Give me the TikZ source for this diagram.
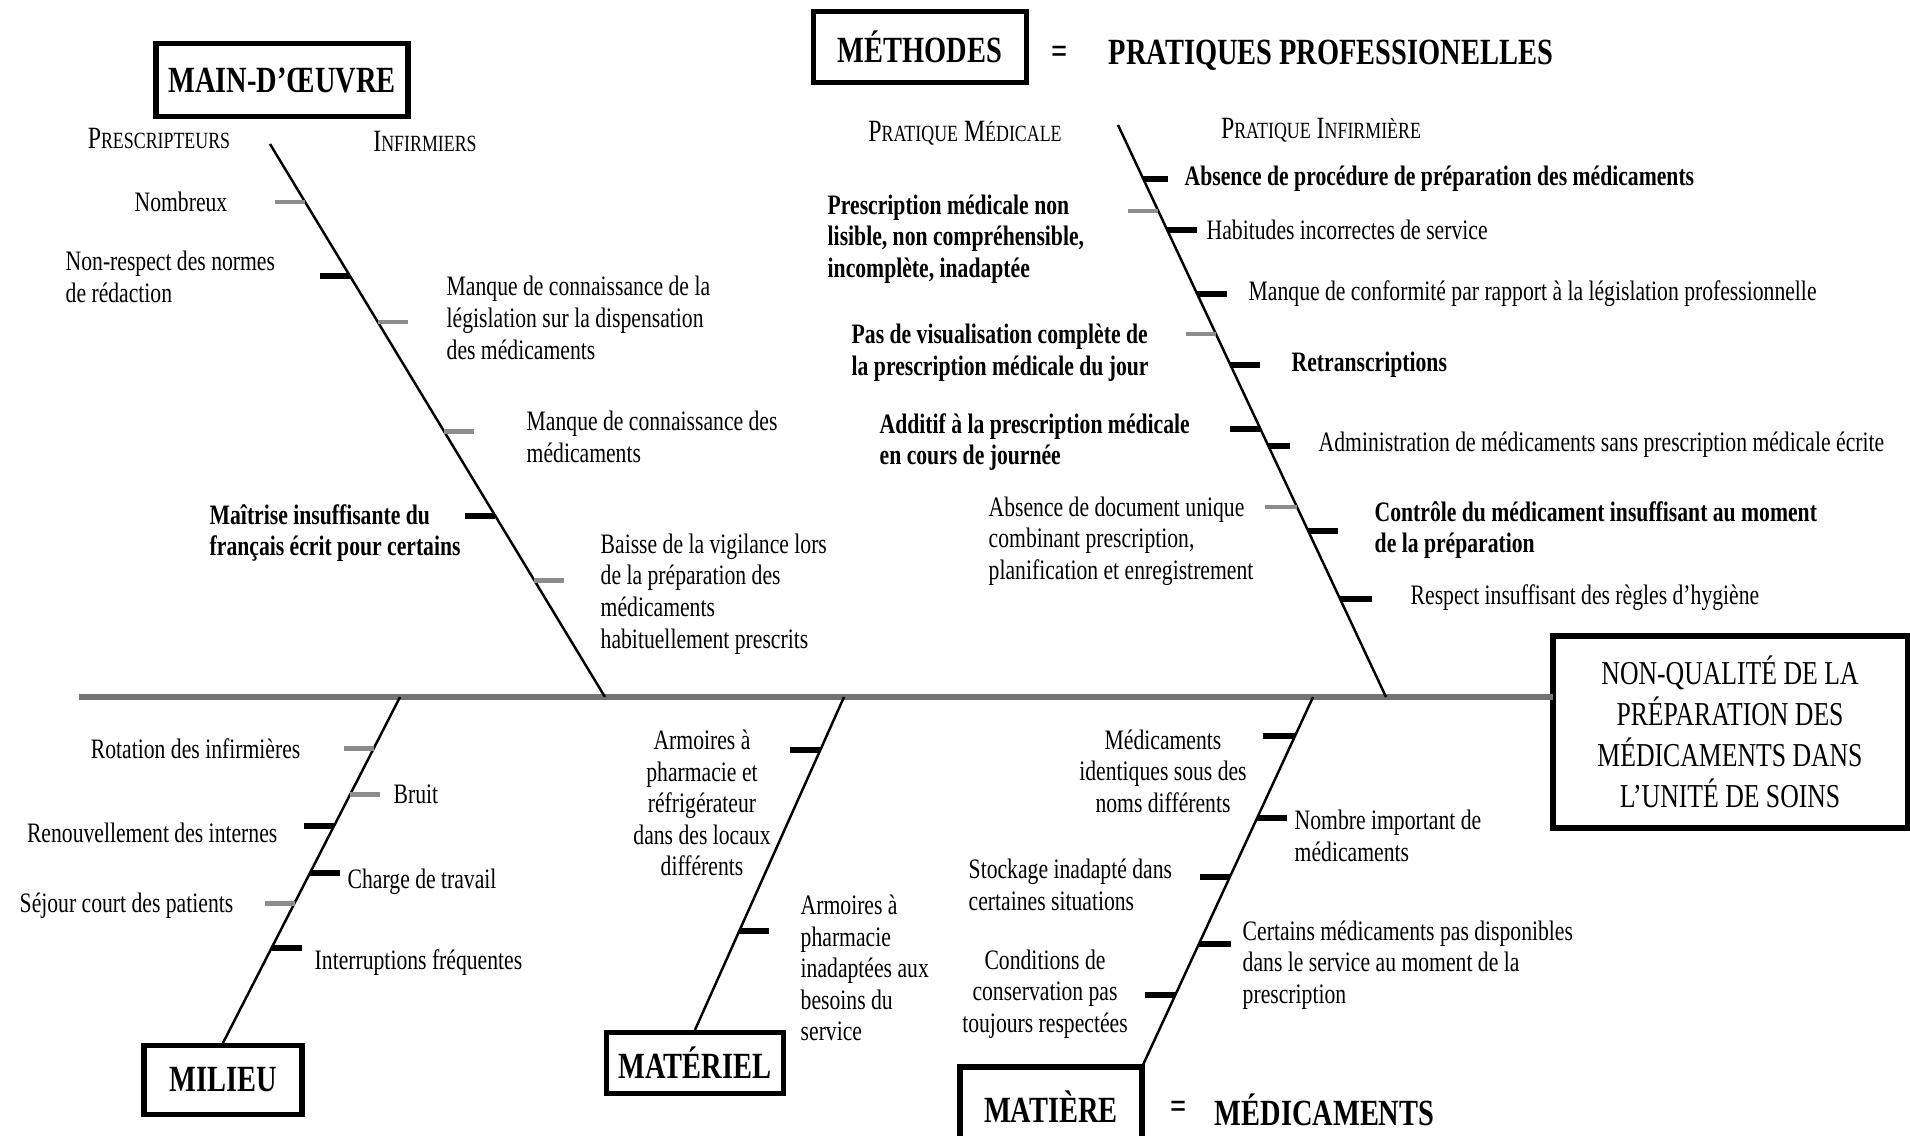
\documentclass[tikz,border=0pt]{standalone}
\usepackage{fontspec}
\setmainfont{Liberation Serif}[FakeStretch=0.77]
\usetikzlibrary{positioning}

\newcommand{\petit}[1]{{\fontsize{6.6}{8}\selectfont #1}}

\begin{document}
\begin{tikzpicture}[x=0.01cm, y=-0.01cm,
        box/.style={draw, line width=1.5pt, inner sep=0pt, font=\fontsize{10.5}{12}\selectfont\bfseries},
        cause/.style={inner sep=0pt, align=left, font=\fontsize{8}{9}\selectfont},
        causeb/.style={cause, font=\fontsize{8}{9}\selectfont\bfseries},
        head/.style={inner sep=0pt, font=\fontsize{8.8}{10}\selectfont},
        title/.style={inner sep=0pt, font=\fontsize{10.5}{12}\selectfont\bfseries},
        bone/.style={line width=0.7pt},
        spine/.style={line width=1.8pt, black!55},
        tick/.style={line width=1.4pt, black!45},
        tickd/.style={line width=1.6pt, black}]

        \clip (0,0) rectangle (1910,1135);

        % Effect and spine
        \node[box, minimum width=3.54cm, minimum height=1.92cm, align=center,
              font=\fontsize{9.5}{11.7}\selectfont] (eff) at (1730,732)
              {NON-QUALITÉ DE LA\\PRÉPARATION DES\\MÉDICAMENTS DANS\\L’UNITÉ DE SOINS};
        \coordinate (tail) at (79,697);
        \coordinate (head) at (1553,697);
        \draw[spine] (tail) -- (head);

        % Category boxes
        \node[box, minimum width=2.52cm, minimum height=0.73cm] (mo) at (282,80) {MAIN-D’ŒUVRE};
        \node[box, minimum width=2.13cm, minimum height=0.71cm] (me) at (920,47) {MÉTHODES};
        \node[box, minimum width=1.58cm, minimum height=0.69cm] (mi) at (223,1080) {MILIEU};
        \node[box, minimum width=1.77cm, minimum height=0.61cm] (ma) at (695,1063) {MATÉRIEL};
        \node[box, minimum width=1.82cm, minimum height=0.80cm] (mt) at (1051,1107) {MATIÈRE};

        \node[title] (eq1) at (1060,55) {=};
        \node[title, anchor=west] (pp) at (1108,55) {PRATIQUES PROFESSIONELLES};
        \node[title] (eq2) at (1179,1110) {=};
        \node[title, anchor=west] (med) at (1214,1110) {MÉDICAMENTS};

        % Sub-headings
        \node[head] (presc) at (159,138) {P\petit{RESCRIPTEURS}};
        \node[head] (infir) at (425,141) {I\petit{NFIRMIERS}};
        \node[head] (pmed) at (965,133) {P\petit{RATIQUE} M\petit{ÉDICALE}};
        \node[head] (pinf) at (1321,130) {P\petit{RATIQUE} I\petit{NFIRMIÈRE}};

        % Bones
        \coordinate (moA) at (270,144);
        \coordinate (moB) at (605,697);
        \coordinate (meA) at (1118,125);
        \coordinate (meB) at (1386,697);
        \coordinate (miA) at (400,697);
        \coordinate (maA) at (844,697);
        \coordinate (mtA) at (1313,697);
        \coordinate (mtB) at (1142,1067);
        \draw[bone] (moA) -- (moB);
        \draw[bone] (meA) -- (meB);
        \draw[bone] (miA) -- (mi.north);
        \draw[bone] (maA) -- (ma.north);
        \draw[bone] (mtA) -- (mtB);

        % Main-d'oeuvre
        \node[cause, anchor=east] (mo1) at (228,202) {Nombreux};
        \node[cause, anchor=west] (mo2) at (65,277) {Non-respect des normes\\de rédaction};
        \node[cause, anchor=west] (mo3) at (446,318) {Manque de connaissance de la\\législation sur la dispensation\\des médicaments};
        \node[cause, anchor=west] (mo4) at (526,437) {Manque de connaissance des\\médicaments};
        \node[causeb, anchor=west] (mo5) at (209,533) {Maîtrise insuffisante du\\français écrit pour certains};
        \node[cause, anchor=west] (mo6) at (600,594) {Baisse de la vigilance lors\\de la préparation des\\médicaments\\habituellement prescrits};
        \draw[tick] (intersection of moA--moB and 0,202--1,202) -- ++(-30,0);
        \draw[tickd] (intersection of moA--moB and 0,276--1,276) -- ++(-30,0);
        \draw[tick] (intersection of moA--moB and 0,322--1,322) -- ++(30,0);
        \draw[tick] (intersection of moA--moB and 0,431--1,431) -- ++(30,0);
        \draw[tickd] (intersection of moA--moB and 0,516--1,516) -- ++(-30,0);
        \draw[tick] (intersection of moA--moB and 0,580--1,580) -- ++(30,0);

        % Methodes
        \node[causeb, anchor=west] (me1) at (1184,179) {Absence de procédure de préparation des médicaments};
        \node[causeb, anchor=west] (me2) at (827,239) {Prescription médicale non\\lisible, non compréhensible,\\incomplète, inadaptée};
        \node[cause, anchor=west] (me3) at (1206,230) {Habitudes incorrectes de service};
        \node[cause, anchor=west] (me4) at (1248,294) {Manque de conformité par rapport à la législation professionnelle};
        \node[causeb, anchor=west] (me5) at (851,353) {Pas de visualisation complète de\\la prescription médicale du jour};
        \node[causeb, anchor=west] (me6) at (1291,365) {Retranscriptions};
        \node[causeb, anchor=west] (me7) at (879,442) {Additif à la prescription médicale\\en cours de journée};
        \node[cause, anchor=west] (me8) at (1318,445) {Administration de médicaments sans prescription médicale écrite};
        \node[cause, anchor=west] (me9) at (988,541) {Absence de document unique\\combinant prescription,\\planification et enregistrement};
        \node[causeb, anchor=west] (me10) at (1374,530) {Contrôle du médicament insuffisant au moment\\de la préparation};
        \node[cause, anchor=west] (me11) at (1410,598) {Respect insuffisant des règles d’hygiène};
        \draw[tickd] (intersection of meA--meB and 0,179--1,179) -- ++(25,0);
        \draw[tick] (intersection of meA--meB and 0,211--1,211) -- ++(-30,0);
        \draw[tickd] (intersection of meA--meB and 0,230--1,230) -- ++(30,0);
        \draw[tickd] (intersection of meA--meB and 0,294--1,294) -- ++(30,0);
        \draw[tick] (intersection of meA--meB and 0,334--1,334) -- ++(-30,0);
        \draw[tickd] (intersection of meA--meB and 0,365--1,365) -- ++(30,0);
        \draw[tickd] (intersection of meA--meB and 0,429--1,429) -- ++(-30,0);
        \draw[tickd] (intersection of meA--meB and 0,446--1,446) -- ++(22,0);
        \draw[tick] (intersection of meA--meB and 0,507--1,507) -- ++(-32,0);
        \draw[tickd] (intersection of meA--meB and 0,531--1,531) -- ++(30,0);
        \draw[tickd] (intersection of meA--meB and 0,599--1,599) -- ++(32,0);

        % Milieu
        \node[cause, anchor=east] (mi1) at (301,749) {Rotation des infirmières};
        \node[cause, anchor=west] (mi2) at (393,794) {Bruit};
        \node[cause, anchor=east] (mi3) at (278,833) {Renouvellement des internes};
        \node[cause, anchor=west] (mi4) at (347,882) {Charge de travail};
        \node[cause, anchor=east] (mi5) at (234,906) {Séjour court des patients};
        \node[cause, anchor=west] (mi6) at (314,963) {Interruptions fréquentes};
        \draw[tick] (intersection of miA--mi.north and 0,748--1,748) -- ++(-30,0);
        \draw[tick] (intersection of miA--mi.north and 0,794--1,794) -- ++(30,0);
        \draw[tickd] (intersection of miA--mi.north and 0,826--1,826) -- ++(-30,0);
        \draw[tickd] (intersection of miA--mi.north and 0,873--1,873) -- ++(30,0);
        \draw[tick] (intersection of miA--mi.north and 0,903--1,903) -- ++(-30,0);
        \draw[tickd] (intersection of miA--mi.north and 0,948--1,948) -- ++(30,0);

        % Materiel
        \node[cause, align=center] (ma1) at (702,803) {Armoires à\\pharmacie et\\réfrigérateur\\dans des locaux\\différents};
        \node[cause, anchor=west] (ma2) at (800,968) {Armoires à\\pharmacie\\inadaptées aux\\besoins du\\service};
        \draw[tickd] (intersection of maA--ma.north and 0,750--1,750) -- ++(-30,0);
        \draw[tickd] (intersection of maA--ma.north and 0,931--1,931) -- ++(30,0);

        % Matiere
        \node[cause, align=center] (mt1) at (1163,771) {Médicaments\\identiques sous des\\noms différents};
        \node[cause, anchor=west] (mt2) at (1294,836) {Nombre important de\\médicaments};
        \node[cause, anchor=west] (mt3) at (968,885) {Stockage inadapté dans\\certaines situations};
        \node[cause, anchor=west] (mt4) at (1242,965) {Certains médicaments pas disponibles\\dans le service au moment de la\\prescription};
        \node[cause, align=center] (mt5) at (1045,994) {Conditions de\\conservation pas\\toujours respectées};
        \draw[tickd] (intersection of mtA--mtB and 0,736--1,736) -- ++(-32,0);
        \draw[tickd] (intersection of mtA--mtB and 0,818--1,818) -- ++(30,0);
        \draw[tickd] (intersection of mtA--mtB and 0,877--1,877) -- ++(-30,0);
        \draw[tickd] (intersection of mtA--mtB and 0,944--1,944) -- ++(32,0);
        \draw[tickd] (intersection of mtA--mtB and 0,995--1,995) -- ++(-30,0);
\end{tikzpicture}
\end{document}
